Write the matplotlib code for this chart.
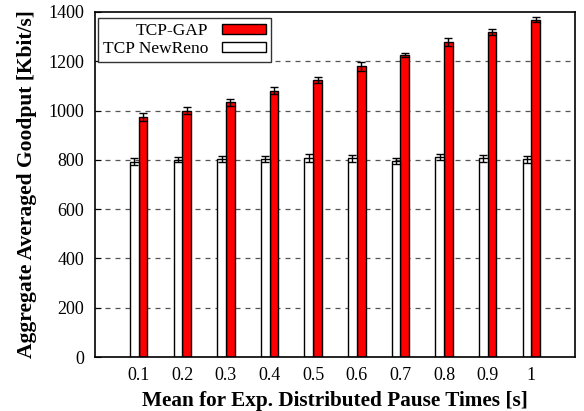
import matplotlib
matplotlib.use("Agg")
import matplotlib.pyplot as plt
import numpy as np

plt.rcParams['font.family'] = ['Liberation Serif', 'DejaVu Serif']
plt.rcParams['mathtext.fontset'] = 'stix'

categories = ["0.1", "0.2", "0.3", "0.4", "0.5", "0.6", "0.7", "0.8", "0.9", "1"]
gap_vals = [973, 1000, 1034, 1080, 1125, 1180, 1226, 1277, 1320, 1369]
gap_err = [16, 15, 14, 14, 13, 18, 9, 17, 12, 11]
newreno_vals = [793, 801, 802, 805, 808, 806, 796, 812, 806, 803]
newreno_err = [13, 11, 12, 12, 16, 13, 12, 13, 14, 14]
yticks = [0, 200, 400, 600, 800, 1000, 1200, 1400]

fig = plt.figure(figsize=(5.84, 4.11), dpi=100)
ax = fig.add_axes([95/584, (411-357)/411, (575-95)/584, (357-12)/411])

x = np.arange(1, len(categories) + 1)
w = 0.2
ax.set_axisbelow(True)
for yv in yticks[1:-1]:
    ax.axhline(yv, color='#555555', linestyle=(0, (4, 4)), linewidth=0.9, zorder=0)

ekw = dict(ecolor='black', elinewidth=1.0, capsize=3, capthick=1.0)
ax.bar(x + w/2, gap_vals, w, yerr=gap_err, color='#ff0000', edgecolor='black',
       linewidth=1.0, label='TCP-GAP', error_kw=ekw, zorder=2)
ax.bar(x - w/2, newreno_vals, w, yerr=newreno_err, color='white', edgecolor='black',
       linewidth=1.0, label='TCP NewReno', error_kw=ekw, zorder=2)

ax.set_xlim(0, 11)
ax.set_ylim(0, 1400)
ax.set_xticks(x)
ax.set_xticklabels(categories)
ax.set_yticks(yticks)
ax.tick_params(axis='x', length=0, labelsize=13, pad=7)
ax.tick_params(axis='y', direction='in', length=4, labelsize=13, pad=8)
for s in ax.spines.values():
    s.set_linewidth(1.2)

ax.set_xlabel('Mean for Exp. Distributed Pause Times [s]', fontsize=15.3, fontweight='bold', labelpad=5)
ax.set_ylabel('Aggregate Averaged Goodput [Kbit/s]', fontsize=15.5, fontweight='bold', labelpad=8)

leg = ax.legend(loc='upper left', bbox_to_anchor=(0.006, 0.983), markerfirst=False, fontsize=12.5,
                frameon=True, fancybox=False, edgecolor='#333333', framealpha=1,
                handlelength=2.5, handleheight=0.45, borderpad=0.3, labelspacing=0.12,
                handletextpad=0.8, borderaxespad=0.0)
leg.get_frame().set_linewidth(1.0)
for t in leg.get_texts():
    t.set_ha('right')

fig.savefig('out.png', dpi=100)
